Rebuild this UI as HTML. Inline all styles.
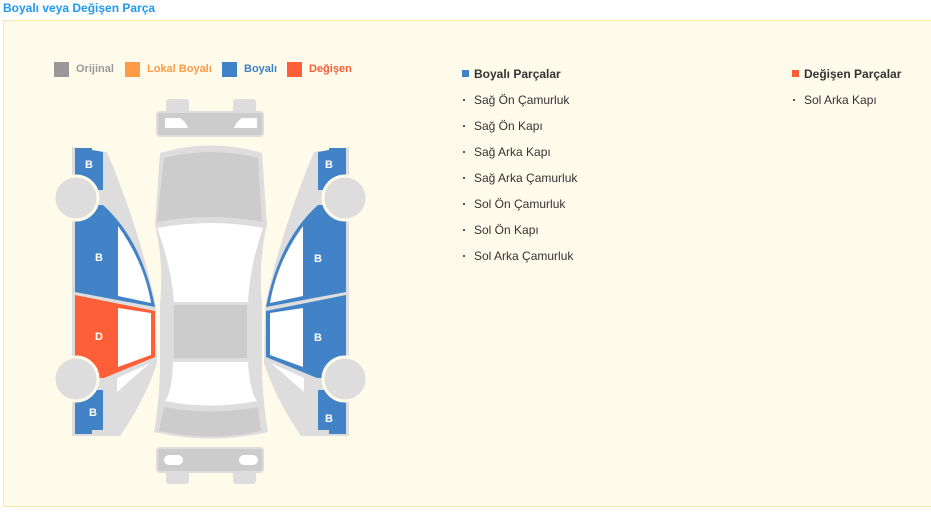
<!DOCTYPE html>
<html><head><meta charset="utf-8"><style>
body{margin:0;width:931px;height:524px;background:#fff;font-family:"Liberation Sans",sans-serif;position:relative;overflow:hidden}
.t{position:absolute;left:3px;top:1px;font-size:12px;font-weight:bold;color:#1e9af0}
.box{position:absolute;left:3px;top:20px;width:930px;height:487px;background:#fffbeb;border:1px solid #fbe8a6;box-sizing:border-box}
.a{position:absolute;font-size:12px;white-space:nowrap}
.sq{position:absolute;width:15px;height:15px}
.h{font-weight:bold;color:#333}
.i{color:#333}
.b{position:absolute;width:2px;height:2px;background:#555}
</style></head><body>
<div class="t">Boyalı veya Değişen Parça</div>
<div class="box"></div>
<div class="sq" style="left:54px;top:62px;background:#999"></div><div class="a" style="left:76px;top:63px;color:#999;font-weight:bold;font-size:11px">Orijinal</div>
<div class="sq" style="left:125px;top:62px;background:#ff9a48"></div><div class="a" style="left:147px;top:63px;color:#ff9a48;font-weight:bold;font-size:11px">Lokal Boyalı</div>
<div class="sq" style="left:222px;top:62px;background:#3f82c8"></div><div class="a" style="left:244px;top:63px;color:#3f7fc4;font-weight:bold;font-size:11px">Boyalı</div>
<div class="sq" style="left:287px;top:62px;background:#ff5f38"></div><div class="a" style="left:309px;top:63px;color:#f56039;font-weight:bold;font-size:11px">Değişen</div>

<div class="sq" style="left:462px;top:70px;width:7px;height:7px;background:#3f82c8"></div><div class="a h" style="left:474px;top:67px">Boyalı Parçalar</div>
<div class="b" style="left:463px;top:99px"></div><div class="a i" style="left:474px;top:93px">Sağ Ön Çamurluk</div>
<div class="b" style="left:463px;top:125px"></div><div class="a i" style="left:474px;top:119px">Sağ Ön Kapı</div>
<div class="b" style="left:463px;top:151px"></div><div class="a i" style="left:474px;top:145px">Sağ Arka Kapı</div>
<div class="b" style="left:463px;top:177px"></div><div class="a i" style="left:474px;top:171px">Sağ Arka Çamurluk</div>
<div class="b" style="left:463px;top:203px"></div><div class="a i" style="left:474px;top:197px">Sol Ön Çamurluk</div>
<div class="b" style="left:463px;top:229px"></div><div class="a i" style="left:474px;top:223px">Sol Ön Kapı</div>
<div class="b" style="left:463px;top:255px"></div><div class="a i" style="left:474px;top:249px">Sol Arka Çamurluk</div>
<div class="sq" style="left:792px;top:70px;width:7px;height:7px;background:#ff5f38"></div><div class="a h" style="left:804px;top:67px">Değişen Parçalar</div>
<div class="b" style="left:793px;top:99px"></div><div class="a i" style="left:804px;top:93px">Sol Arka Kapı</div>

<svg style="position:absolute;left:0;top:0" width="931" height="524">
<g fill="#ddd"><rect x="166" y="99" width="23" height="14" rx="3"/><rect x="233" y="99" width="23" height="14" rx="3"/>
<rect x="166" y="470" width="23" height="14" rx="3"/><rect x="233" y="470" width="23" height="14" rx="3"/></g>
<rect x="157" y="112" width="106" height="24" rx="3" fill="#ccc" stroke="#ddd" stroke-width="2"/>
<path d="M165,118 L180,118 Q186,122 188,128 L165,128 Z M257,118 L242,118 Q236,122 234,128 L257,128 Z" fill="#fff"/>
<rect x="157" y="448" width="106" height="24" rx="3" fill="#ccc" stroke="#ddd" stroke-width="2"/>
<rect x="164" y="455" width="19" height="10" rx="5" fill="#fff"/><rect x="239" y="455" width="19" height="10" rx="5" fill="#fff"/>
<path d="M160,153 Q211,138 262,153 L267,225 Q258,262 262,305 L262,360 Q262,398 268,432 Q211,445 154,432 Q160,398 160,360 L160,305 Q164,262 155,225 Z" fill="#ddd"/>
<path d="M164,158 Q211,146 258,158 L262,222 Q211,212 157,222 Z" fill="#ccc"/>
<path d="M157,228 Q211,218 263,228 Q250,265 248,302 L174,302 Q171,265 157,228Z" fill="#fff"/>
<rect x="174" y="305" width="73" height="53" fill="#ccc"/>
<path d="M173,362 L248,362 Q250,392 257,401 Q211,410 165,401 Q172,392 173,362Z" fill="#fff"/>
<path d="M164,407 Q211,416 258,407 L261,431 Q211,442 159,431 Z" fill="#ccc"/>
<g>
<path d="M72,147 L107,152 Q140,230 156,307 L157,363 Q145,400 120,436 L72,436 Z" fill="#ddd"/>
<path d="M75,148 L92,148 L92,150 L103,152 L103,190 L75,190 Z" fill="#4283c8"/>
<path d="M75,205 L103,205 Q142,240 155,307 L75,292 Z" fill="#4283c8"/>
<path d="M118,226 Q144,262 151,303 L118,296 Z" fill="#fff"/>
<path d="M75,295 L155,311 L155,357 L104,378 L75,378 Z" fill="#ff5f38"/>
<path d="M118,308 L151,313 L151,355 L118,367 Z" fill="#fff"/>
<path d="M117,378 L150,363 L117,392 Z" fill="#fff"/>
<path d="M75,390 L103,390 L103,430 L92,430 L92,434 L75,434 Z" fill="#4283c8"/>
<circle cx="76" cy="198" r="22" fill="#ddd" stroke="#fffbeb" stroke-width="3"/>
<circle cx="76" cy="379" r="22" fill="#ddd" stroke="#fffbeb" stroke-width="3"/>
</g>
<g transform="translate(421,0) scale(-1,1)">
<path d="M72,147 L107,152 Q140,230 156,307 L157,363 Q145,400 120,436 L72,436 Z" fill="#ddd"/>
<path d="M75,148 L92,148 L92,150 L103,152 L103,190 L75,190 Z" fill="#4283c8"/>
<path d="M75,205 L103,205 Q142,240 155,307 L75,292 Z" fill="#4283c8"/>
<path d="M118,226 Q144,262 151,303 L118,296 Z" fill="#fff"/>
<path d="M75,295 L155,311 L155,357 L104,378 L75,378 Z" fill="#4283c8"/>
<path d="M118,308 L151,313 L151,355 L118,367 Z" fill="#fff"/>
<path d="M117,378 L150,363 L117,392 Z" fill="#fff"/>
<path d="M75,390 L103,390 L103,430 L92,430 L92,434 L75,434 Z" fill="#4283c8"/>
<circle cx="76" cy="198" r="22" fill="#ddd" stroke="#fffbeb" stroke-width="3"/>
<circle cx="76" cy="379" r="22" fill="#ddd" stroke="#fffbeb" stroke-width="3"/>
</g>
<g fill="#fff" font-family="Liberation Sans" font-weight="bold" font-size="11" text-anchor="middle">
<text x="89" y="168">B</text><text x="99" y="261">B</text><text x="99" y="340">D</text><text x="93" y="416">B</text>
<text x="329" y="168">B</text><text x="318" y="262">B</text><text x="318" y="341">B</text><text x="329" y="422">B</text>
</g>
</svg>
</body></html>
